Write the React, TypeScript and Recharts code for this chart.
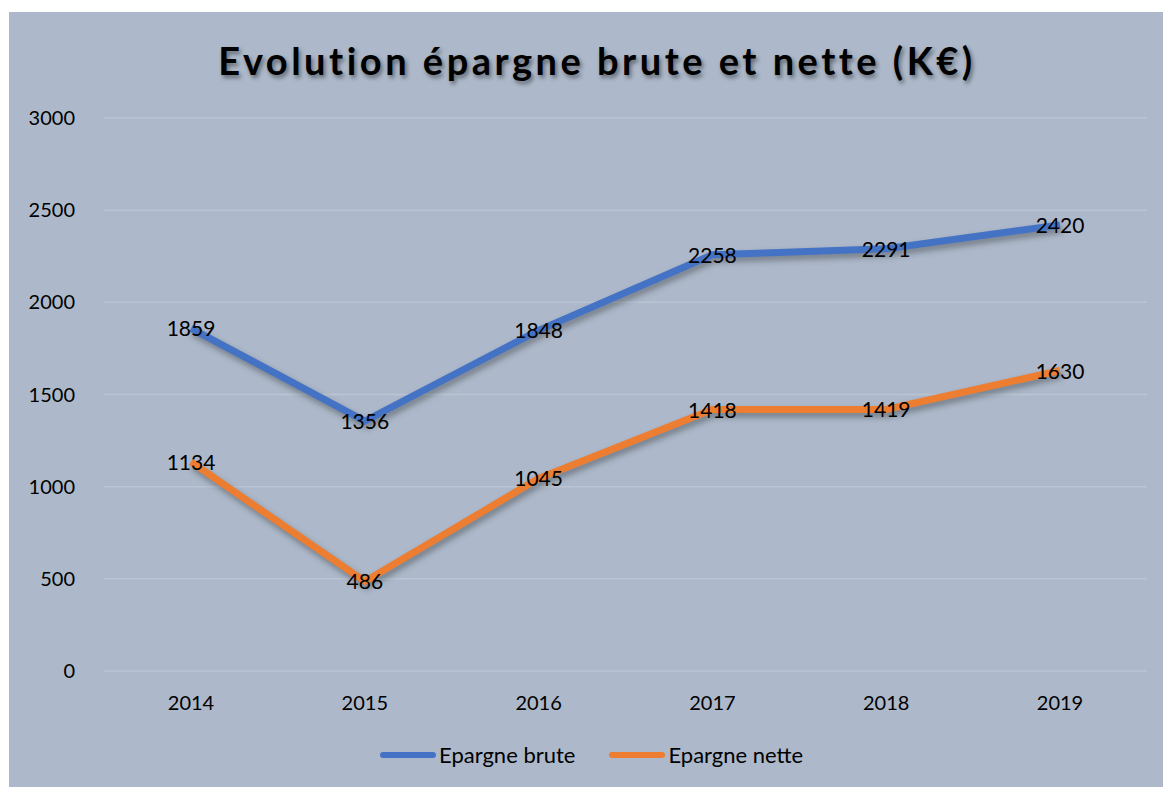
import React from "react";
import { LineChart, Line, XAxis, YAxis, CartesianGrid, LabelList } from "recharts";

const years = ["2014", "2015", "2016", "2017", "2018", "2019"];
const epargneBrute = [1859, 1356, 1848, 2258, 2291, 2420];
const epargneNette = [1134, 486, 1045, 1418, 1419, 1630];
const yTicks = [0, 500, 1000, 1500, 2000, 2500, 3000];

const data = years.map((y, i) => ({ year: y, brute: epargneBrute[i], nette: epargneNette[i] }));

const BLUE = "#4472c4";
const ORANGE = "#ed7d31";
const BG = "#adb9ca";
const FONT = "Lato, 'Open Sans', sans-serif";

const renderLabel = (props: any) => {
  const { x, y, value } = props;
  return (
    <text x={x} y={y} dy={8} textAnchor="middle" fontSize={21} fontFamily={FONT} fill="#000">
      {value}
    </text>
  );
};

export default function App() {
  return (
    <div style={{ position: "absolute", left: 9, top: 12, width: 1154, height: 775, background: BG, fontFamily: FONT }}>
      <div
        style={{
          position: "absolute",
          left: 11,
          width: 1154,
          top: 23,
          textAlign: "center",
          fontSize: 38,
          fontWeight: 700,
          letterSpacing: 3.5,
          color: "#000",
          textShadow: "2px 3px 4px rgba(0,0,0,0.45)",
          lineHeight: "50px",
        }}
      >
        Evolution épargne brute et nette (K€)
      </div>
      <LineChart
        width={1154}
        height={775}
        data={data}
        margin={{ top: 106, right: 16, bottom: 86, left: 0 }}
      >
        <CartesianGrid vertical={false} stroke="#bac4d3" strokeWidth={1.5} />
        <XAxis
          dataKey="year"
          padding={{ left: 87, right: 87 }}
          axisLine={false}
          tickLine={false}
          tickSize={0}
          tickMargin={25}
          tick={{ fill: "#000", fontSize: 20, fontFamily: FONT }}
        />
        <YAxis
          width={95}
          domain={[0, 3000]}
          ticks={yTicks}
          axisLine={false}
          tickLine={false}
          tickSize={0}
          tickMargin={29}
          tick={{ fill: "#000", fontSize: 20, fontFamily: FONT }}
        />
        <Line
          type="linear"
          dataKey="brute"
          stroke={BLUE}
          strokeWidth={7}
          dot={false}
          isAnimationActive={false}
          style={{ filter: "drop-shadow(2px 4px 3px rgba(0,0,0,0.35))" }}
        >
          <LabelList dataKey="brute" content={renderLabel} />
        </Line>
        <Line
          type="linear"
          dataKey="nette"
          stroke={ORANGE}
          strokeWidth={7}
          dot={false}
          isAnimationActive={false}
          style={{ filter: "drop-shadow(2px 4px 3px rgba(0,0,0,0.35))" }}
        >
          <LabelList dataKey="nette" content={renderLabel} />
        </Line>
      </LineChart>
      <div style={{ position: "absolute", top: 729, left: 371, display: "flex", alignItems: "center", fontSize: 22, color: "#000" }}>
        <span style={{ display: "inline-block", width: 56, height: 6, borderRadius: 3, background: BLUE, marginRight: 3 }} />
        <span>Epargne brute</span>
        <span style={{ display: "inline-block", width: 56, height: 6, borderRadius: 3, background: ORANGE, marginLeft: 34, marginRight: 3 }} />
        <span>Epargne nette</span>
      </div>
    </div>
  );
}
